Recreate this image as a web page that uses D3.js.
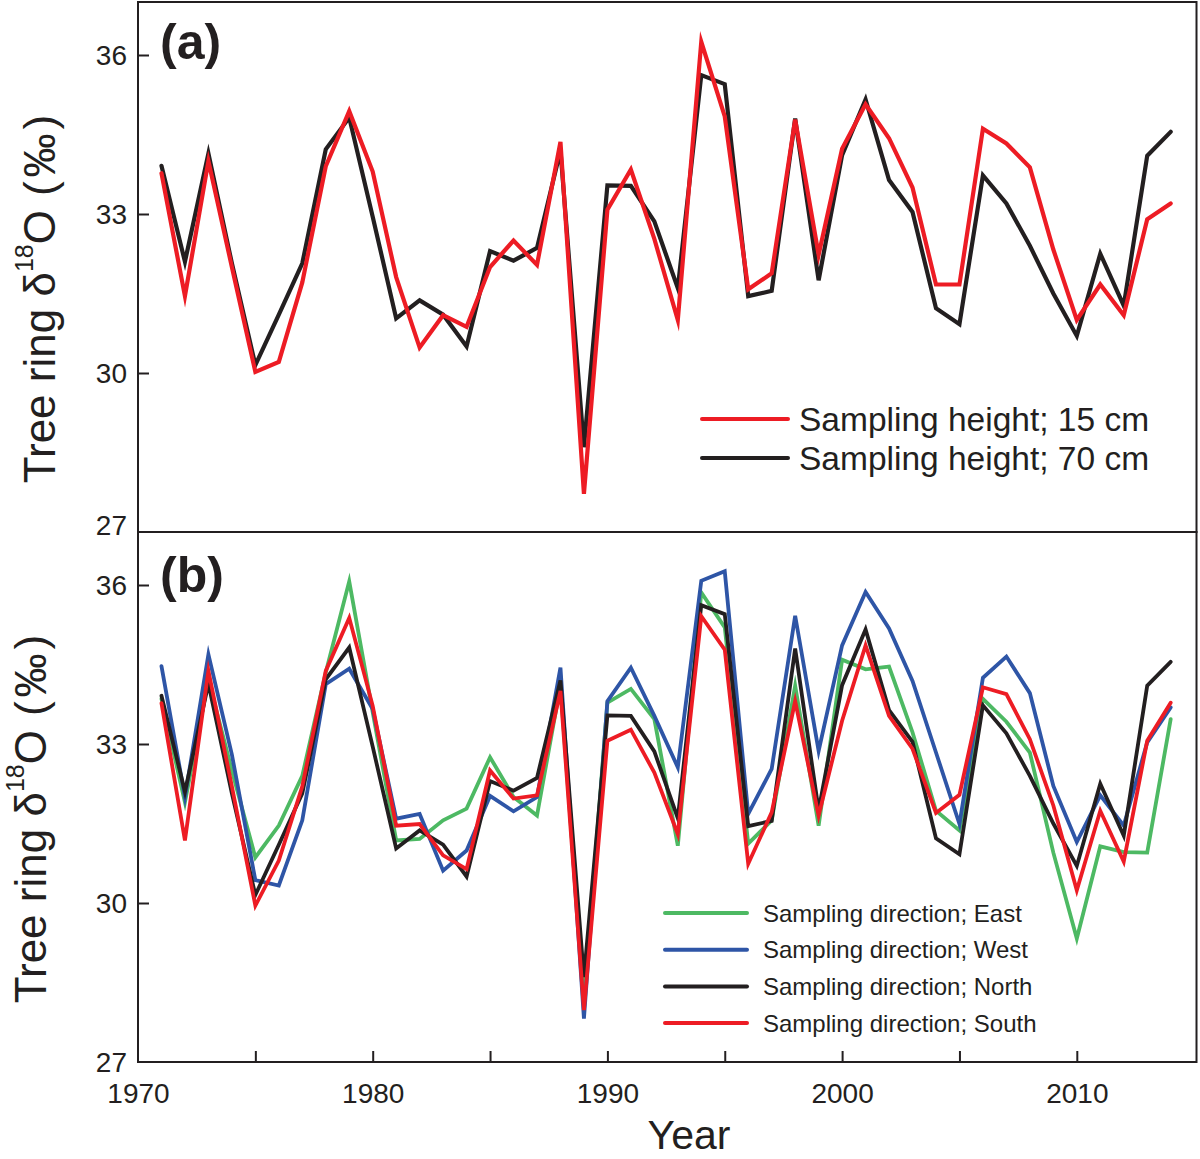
<!DOCTYPE html>
<html>
<head>
<meta charset="utf-8">
<script src="https://cdn.jsdelivr.net/npm/d3@7/dist/d3.min.js"></script>
<style>
  html, body { margin: 0; padding: 0; background: #fff; }
  svg { display: block; }
  text { font-family: "Liberation Sans", Arial, Helvetica, sans-serif; fill: #231f20; }
</style>
</head>
<body>
<svg id="chart" width="1200" height="1159"></svg>
<script>
// ---------------- DATA ----------------
const years = d3.range(1971, 2015);

// Panel (a): sampling height
const height15 = [33.77,31.45,34.00,32.00,30.02,30.21,31.71,33.90,34.94,33.80,
                  31.81,30.48,31.09,30.87,32.00,32.50,32.04,34.36,27.72,33.08,
                  33.84,32.53,31.00,36.25,34.84,31.58,31.88,34.78,32.23,34.23,
                  35.07,34.43,33.50,31.67,31.67,34.61,34.33,33.88,32.33,31.00,
                  31.67,31.09,32.90,33.20];
const height70 = [33.91,32.10,34.14,32.07,30.15,31.10,32.07,34.22,34.82,32.95,
                  31.03,31.37,31.10,30.50,32.30,32.12,32.36,34.20,28.60,33.54,
                  33.53,32.86,31.60,35.62,35.45,31.45,31.55,34.80,31.75,34.11,
                  35.16,33.64,33.04,31.22,30.92,33.73,33.20,32.40,31.50,30.70,
                  32.25,31.27,34.10,34.55];

// Panel (b): sampling direction
const east  = [33.85,31.90,34.22,32.50,30.86,31.46,32.40,34.35,36.07,33.60,
               31.18,31.21,31.56,31.78,32.75,32.00,31.65,34.10,28.13,33.78,
               34.04,33.47,31.08,35.86,35.20,31.12,31.56,34.10,31.46,34.59,
               34.41,34.46,33.22,31.74,31.37,33.85,33.42,32.84,30.95,29.33,
               31.07,30.96,30.95,33.47];
const west  = [34.47,32.00,34.69,32.80,30.43,30.33,31.56,34.13,34.42,33.66,
               31.59,31.68,30.61,30.99,32.02,31.73,32.00,34.44,27.82,33.81,
               34.44,33.53,32.56,36.08,36.26,31.68,32.53,35.42,32.87,34.86,
               35.87,35.18,34.19,32.84,31.49,34.25,34.65,33.96,32.21,31.15,
               32.03,31.46,33.03,33.69];
const north = height70;
const south = [33.77,31.18,34.38,32.20,29.95,30.80,32.20,34.38,35.38,33.72,
               31.46,31.49,30.90,30.64,32.50,31.97,32.03,34.00,27.98,33.06,
               33.27,32.46,31.30,35.41,34.78,30.74,31.71,33.81,31.65,33.44,
               34.86,33.53,32.91,31.70,32.04,34.07,33.94,33.09,31.84,30.24,
               31.74,30.78,33.06,33.78];

const yTicks = [27, 30, 33, 36];
const xTicks = [1970, 1975, 1980, 1985, 1990, 1995, 2000, 2005, 2010];
const xTickLabels = [1970, 1980, 1990, 2000, 2010];

const seriesA = [
  { name: "Sampling height; 70 cm", values: height70, color: "#231f20" },
  { name: "Sampling height; 15 cm", values: height15, color: "#ed1c24" }
];
const legendA = ["Sampling height; 15 cm", "Sampling height; 70 cm"];
const legendAColors = ["#ed1c24", "#231f20"];

const seriesB = [
  { name: "Sampling direction; East",  values: east,  color: "#4db963" },
  { name: "Sampling direction; West",  values: west,  color: "#2e55a6" },
  { name: "Sampling direction; North", values: north, color: "#231f20" },
  { name: "Sampling direction; South", values: south, color: "#ed1c24" }
];

// ---------------- LAYOUT ----------------
const svg = d3.select("#chart");
const left = 138, right = 1196.5;
const x = d3.scaleLinear().domain([1970, 2015.1]).range([left, right]);

const panels = [
  { top: 2, bottom: 532, label: "(a)", labelY: 59, series: seriesA, lw: 4.2, ylabX: 55, ylabY: 299 },
  { top: 532, bottom: 1062, label: "(b)", labelY: 592, series: seriesB, lw: 3.8, ylabX: 46, ylabY: 819 }
];

const ink = "#231f20";

panels.forEach((p, pi) => {
  const y = d3.scaleLinear().domain([27, 37]).range([p.bottom, p.top]);
  const g = svg.append("g");

  // data lines
  const line = d3.line().x((d, i) => x(years[i])).y(d => y(d));
  p.series.forEach(s => {
    g.append("path")
      .datum(s.values)
      .attr("d", line)
      .attr("fill", "none")
      .attr("stroke", s.color)
      .attr("stroke-width", p.lw)
      .attr("stroke-linejoin", "miter")
      .attr("stroke-miterlimit", 6)
      .attr("stroke-linecap", "round");
  });

  // frame
  g.append("rect")
    .attr("x", left).attr("y", p.top)
    .attr("width", right - left).attr("height", p.bottom - p.top)
    .attr("fill", "none").attr("stroke", ink).attr("stroke-width", 2);

  // y axis (inward ticks)
  const yAxis = d3.axisLeft(y).tickValues(yTicks).tickSize(-11).tickPadding(22).tickFormat(d3.format("d"));
  const ya = g.append("g").attr("transform", `translate(${left},0)`).call(yAxis);
  ya.select(".domain").remove();
  ya.selectAll("line").attr("stroke", ink).attr("stroke-width", 2);
  ya.selectAll("text")
    .attr("font-size", 28)
    .attr("font-family", '"Liberation Sans", Arial, sans-serif')
    .attr("fill", ink)
    .attr("x", -11)
    .attr("dy", "0.35em");
  ya.selectAll(".tick").filter(d => d === 27).select("line").remove();
  if (pi === 0) {
    ya.selectAll(".tick").filter(d => d === 27).select("text").attr("dy", "0.1em");
  }

  // panel label
  g.append("text")
    .attr("x", 160).attr("y", p.labelY)
    .attr("font-size", 50).attr("font-weight", "bold")
    .text(p.label);

  // y axis title
  const t = g.append("text")
    .attr("transform", `translate(${p.ylabX},${p.ylabY}) rotate(-90)`)
    .attr("text-anchor", "middle")
    .attr("font-size", 44);
  t.append("tspan").text("Tree ring δ");
  t.append("tspan").attr("font-size", 25).attr("dy", -22).text("18");
  t.append("tspan").attr("dy", 22).text("O");
  t.append("tspan").attr("dx", 14).text("(");
  t.append("tspan").attr("dx", 4).text("‰");
  t.append("tspan").attr("dx", 4).text(")");
});

// x axis on panel (b)
const xb = panels[1];
const xAxis = d3.axisBottom(x).tickValues(xTicks).tickSize(-11).tickPadding(20)
  .tickFormat(d => xTickLabels.includes(d) ? d : "");
const xa = svg.append("g").attr("transform", `translate(0,${xb.bottom})`).call(xAxis);
xa.select(".domain").remove();
xa.selectAll("line").attr("stroke", ink).attr("stroke-width", 2);
xa.selectAll(".tick").filter(d => d === 1970).select("line").remove();
xa.selectAll("text")
  .attr("font-size", 28)
  .attr("font-family", '"Liberation Sans", Arial, sans-serif')
  .attr("fill", ink)
  .attr("y", 41)
  .attr("dy", 0);

svg.append("text")
  .attr("x", 689).attr("y", 1149)
  .attr("text-anchor", "middle")
  .attr("font-size", 41)
  .text("Year");

// legend (a)
const legA = svg.append("g");
legendA.forEach((name, i) => {
  const ly = 419 + i * 39;
  legA.append("line")
    .attr("x1", 702).attr("x2", 788).attr("y1", ly).attr("y2", ly)
    .attr("stroke", legendAColors[i]).attr("stroke-width", 4).attr("stroke-linecap", "round");
  legA.append("text")
    .attr("x", 799).attr("y", ly).attr("dy", "0.36em")
    .attr("font-size", 33.5)
    .text(name);
});

// legend (b)
const legB = svg.append("g");
seriesB.forEach((s, i) => {
  const ly = 913 + i * 36.7;
  legB.append("line")
    .attr("x1", 665).attr("x2", 747).attr("y1", ly).attr("y2", ly)
    .attr("stroke", s.color).attr("stroke-width", 4).attr("stroke-linecap", "round");
  legB.append("text")
    .attr("x", 763).attr("y", ly).attr("dy", "0.36em")
    .attr("font-size", 24)
    .text(s.name);
});
</script>
</body>
</html>
